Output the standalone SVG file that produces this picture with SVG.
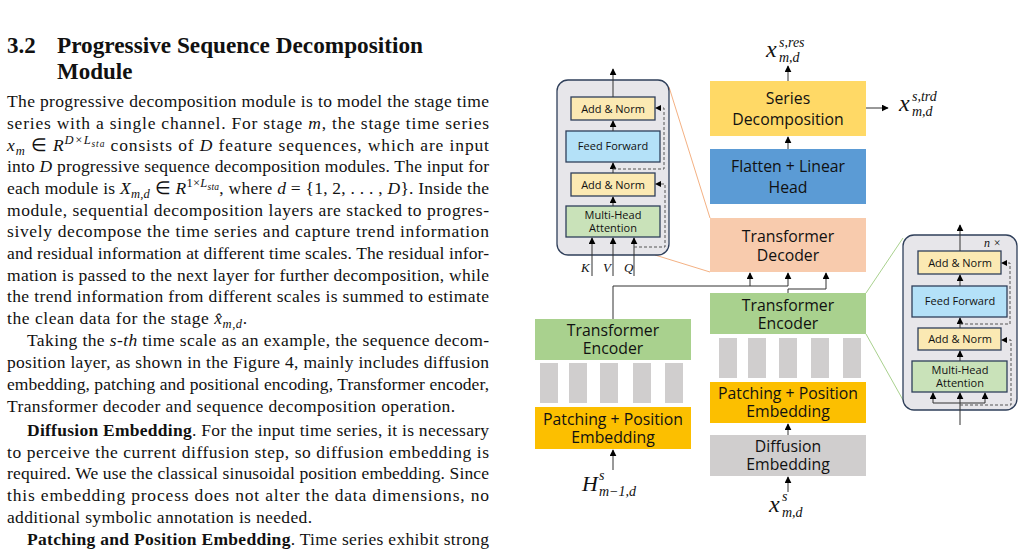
<svg xmlns="http://www.w3.org/2000/svg" width="1023" height="549" viewBox="0 0 1023 549">
<defs>
<marker id="ah" viewBox="0 0 10 10" refX="9" refY="5" markerWidth="7" markerHeight="7" orient="auto-start-reverse" markerUnits="userSpaceOnUse"><path d="M0,0 L10,5 L0,10 z" fill="#000"/></marker>
</defs>
<style>
.body{font-family:"Liberation Serif",serif;font-size:17.5px;fill:#111}
.b{font-weight:bold}
.i{font-style:italic}
.s{font-size:12.5px}
.t{font-size:9.5px}
.h{font-family:"Liberation Serif",serif;font-size:23px;font-weight:bold;fill:#111}
.n{font-family:"Open Sans","Noto Sans",sans-serif;fill:#111;text-anchor:middle}
.big{font-size:15.8px}
.sm{font-size:11px}
.m{font-family:"Liberation Serif",serif;font-style:italic;fill:#111}
.ln{stroke:#333;stroke-width:1;fill:none}
.bx{stroke:#2f3f5a;stroke-width:1.3}
.dash{stroke:#555;stroke-width:1;fill:none;stroke-dasharray:3 2}
</style>
<rect width="1023" height="549" fill="#fff"/>
<g id="text">
<text class="h" x="7" y="53">3.2</text>
<text class="h" x="57" y="53" textLength="366" lengthAdjust="spacingAndGlyphs">Progressive Sequence Decomposition</text>
<text class="h" x="57" y="79">Module</text>
<text class="body" x="7" y="107" textLength="482" lengthAdjust="spacing">The progressive decomposition module is to model the stage time</text>
<text class="body" x="7" y="129" textLength="482" lengthAdjust="spacing">series with a single channel. For stage <tspan class="i">m</tspan>, the stage time series</text>
<text class="body" x="7" y="151" textLength="482" lengthAdjust="spacing"><tspan class="i">x</tspan><tspan class="i s" dy="4">m</tspan><tspan dy="-4"> ∈ </tspan><tspan class="i">R</tspan><tspan class="i s" dy="-7">D×L</tspan><tspan class="i t" dy="3">sta</tspan><tspan dy="4"> consists of </tspan><tspan class="i">D</tspan> feature sequences, which are input</text>
<text class="body" x="7" y="172" textLength="482" lengthAdjust="spacing">into <tspan class="i">D</tspan> progressive sequence decomposition modules. The input for</text>
<text class="body" x="7" y="194" textLength="482" lengthAdjust="spacing">each module is <tspan class="i">X</tspan><tspan class="i s" dy="4">m,d</tspan><tspan dy="-4"> ∈ </tspan><tspan class="i">R</tspan><tspan class="s" dy="-7">1×</tspan><tspan class="i s">L</tspan><tspan class="i t" dy="3">sta</tspan><tspan dy="4">, where </tspan><tspan class="i">d</tspan> = {1, 2, . . . , <tspan class="i">D</tspan>}. Inside the</text>
<text class="body" x="7" y="216" textLength="482" lengthAdjust="spacing">module, sequential decomposition layers are stacked to progres-</text>
<text class="body" x="7" y="237" textLength="482" lengthAdjust="spacing">sively decompose the time series and capture trend information</text>
<text class="body" x="7" y="259" textLength="482" lengthAdjust="spacing">and residual information at different time scales. The residual infor-</text>
<text class="body" x="7" y="281" textLength="482" lengthAdjust="spacing">mation is passed to the next layer for further decomposition, while</text>
<text class="body" x="7" y="302" textLength="482" lengthAdjust="spacing">the trend information from different scales is summed to estimate</text>
<text class="body" x="7" y="324" textLength="240" lengthAdjust="spacing">the clean data for the stage <tspan class="i">x̂</tspan><tspan class="i s" dy="4">m,d</tspan><tspan dy="-4">.</tspan></text>
<text class="body" x="27" y="346" textLength="462" lengthAdjust="spacing">Taking the <tspan class="i">s-th</tspan> time scale as an example, the sequence decom-</text>
<text class="body" x="7" y="368" textLength="482" lengthAdjust="spacing">position layer, as shown in the Figure 4, mainly includes diffusion</text>
<text class="body" x="7" y="390" textLength="482" lengthAdjust="spacing">embedding, patching and positional encoding, Transformer encoder,</text>
<text class="body" x="7" y="412" textLength="448" lengthAdjust="spacing">Transformer decoder and sequence decomposition operation.</text>
<text class="body" x="27" y="436" textLength="462" lengthAdjust="spacing"><tspan class="b">Diffusion Embedding</tspan>. For the input time series, it is necessary</text>
<text class="body" x="7" y="458" textLength="482" lengthAdjust="spacing">to perceive the current diffusion step, so diffusion embedding is</text>
<text class="body" x="7" y="479" textLength="482" lengthAdjust="spacing">required. We use the classical sinusoidal position embedding. Since</text>
<text class="body" x="7" y="501" textLength="482" lengthAdjust="spacing">this embedding process does not alter the data dimensions, no</text>
<text class="body" x="7" y="523" textLength="305" lengthAdjust="spacing">additional symbolic annotation is needed.</text>
<text class="body" x="27" y="545" textLength="462" lengthAdjust="spacing"><tspan class="b">Patching and Position Embedding</tspan>. Time series exhibit strong</text>
</g>

<g id="zoomlines">
<line x1="669" y1="87" x2="710" y2="218" stroke="#f4b183" stroke-width="1"/>
<line x1="655" y1="255" x2="710" y2="272" stroke="#f4b183" stroke-width="1"/>
<line x1="866" y1="293" x2="903" y2="238" stroke="#a9d18e" stroke-width="1"/>
<line x1="866" y1="334" x2="903" y2="400" stroke="#a9d18e" stroke-width="1"/>
</g>

<g id="decoder-detail">
<rect x="557" y="80" width="112" height="175" rx="11" fill="#e7e6ea" stroke="#2f3f5a" stroke-width="1.3"/>
<rect class="bx" x="571" y="97" width="84" height="23" fill="#fbe9b3"/>
<text class="n sm" x="613" y="113">Add &amp; Norm</text>
<rect class="bx" x="566" y="131" width="94" height="31" fill="#b4e1f8"/>
<text class="n sm" x="613" y="150">Feed Forward</text>
<rect class="bx" x="571" y="173" width="84" height="23" fill="#fbe9b3"/>
<text class="n sm" x="613" y="189">Add &amp; Norm</text>
<rect class="bx" x="566" y="206" width="94" height="31" fill="#c9e2b9"/>
<text class="n sm" x="613" y="219">Multi-Head</text>
<text class="n sm" x="613" y="232">Attention</text>
<text class="m" x="581" y="272" font-size="13">K</text>
<text class="m" x="603" y="272" font-size="13">V</text>
<text class="m" x="624" y="272" font-size="13">Q</text>
</g>

<g id="series-decomposition"><rect x="710" y="81" width="156" height="55" fill="#ffd966"/>
<text class="n big" x="788" y="104">Series</text><text class="n big" x="788" y="125">Decomposition</text></g>
<g id="flatten"><rect x="710" y="149" width="156" height="55" fill="#5b9bd5"/>
<text class="n big" x="788" y="172">Flatten + Linear</text><text class="n big" x="788" y="193">Head</text></g>
<g id="decoder"><rect x="710" y="218" width="156" height="54" fill="#f8cbad"/>
<text class="n big" x="788" y="242">Transformer</text><text class="n big" x="788" y="261">Decoder</text></g>
<g id="encoder-right"><rect x="710" y="293" width="156" height="41" fill="#a9d18e"/>
<text class="n big" x="788" y="311">Transformer</text><text class="n big" x="788" y="329">Encoder</text></g>
<g id="patches-right" fill="#d0cece">
<rect x="719" y="338" width="18" height="40"/><rect x="748" y="338" width="18" height="40"/><rect x="779" y="338" width="18" height="40"/><rect x="811" y="338" width="18" height="40"/><rect x="843" y="338" width="18" height="40"/></g>
<g id="patching-right"><rect x="710" y="382" width="156" height="41" fill="#fcbf00"/>
<text class="n big" x="788" y="399">Patching + Position</text><text class="n big" x="788" y="417">Embedding</text></g>
<g id="diffusion"><rect x="710" y="435" width="156" height="41" fill="#d0cece"/>
<text class="n big" x="788" y="452">Diffusion</text><text class="n big" x="788" y="470">Embedding</text></g>

<g id="encoder-left"><rect x="535" y="319" width="156" height="41" fill="#a9d18e"/>
<text class="n big" x="613" y="336">Transformer</text><text class="n big" x="613" y="354">Encoder</text></g>
<g id="patches-left" fill="#d0cece">
<rect x="540" y="363" width="18" height="40"/><rect x="569" y="363" width="18" height="40"/><rect x="600" y="363" width="18" height="40"/><rect x="633" y="363" width="18" height="40"/><rect x="665" y="363" width="18" height="40"/></g>
<g id="patching-left"><rect x="535" y="407" width="156" height="42" fill="#fcbf00"/>
<text class="n big" x="613" y="425">Patching + Position</text><text class="n big" x="613" y="443">Embedding</text></g>

<g id="encoder-detail">
<rect x="903" y="235" width="114" height="175" rx="11" fill="#e7e6ea" stroke="#2f3f5a" stroke-width="1.3"/>
<text class="m" x="984" y="247" font-size="12">n ×</text>
<rect class="bx" x="918" y="251" width="83" height="23" fill="#fbe9b3"/>
<text class="n sm" x="960" y="267">Add &amp; Norm</text>
<rect class="bx" x="912" y="286" width="95" height="31" fill="#b4e1f8"/>
<text class="n sm" x="960" y="305">Feed Forward</text>
<rect class="bx" x="918" y="328" width="83" height="22" fill="#fbe9b3"/>
<text class="n sm" x="960" y="343">Add &amp; Norm</text>
<rect class="bx" x="912" y="361" width="95" height="31" fill="#c9e2b9"/>
<text class="n sm" x="960" y="374">Multi-Head</text>
<text class="n sm" x="960" y="387">Attention</text>
</g>

<g id="labels">
<text class="m" x="766" y="57" font-size="24">x</text>
<text class="m" x="779" y="47" font-size="14">s,res</text>
<text class="m" x="779" y="62" font-size="14">m,d</text>
<text class="m" x="899" y="111" font-size="24">x</text>
<text class="m" x="912" y="101" font-size="14">s,trd</text>
<text class="m" x="912" y="116" font-size="14">m,d</text>
<text class="m" x="769" y="512" font-size="24">x</text>
<text class="m" x="782" y="501" font-size="14">s</text>
<text class="m" x="782" y="517" font-size="14">m,d</text>
<text class="m" x="582" y="491" font-size="22">H</text>
<text class="m" x="599" y="480" font-size="14">s</text>
<text class="m" x="599" y="496" font-size="14">m−1,d</text>
</g>

<g id="connectors">
<line class="ln" x1="613" y1="97" x2="613" y2="69" marker-end="url(#ah)"/>
<line class="ln" x1="613" y1="131" x2="613" y2="121" marker-end="url(#ah)"/>
<line class="ln" x1="613" y1="173" x2="613" y2="163" marker-end="url(#ah)"/>
<line class="ln" x1="613" y1="206" x2="613" y2="197" marker-end="url(#ah)"/>
<line class="ln" x1="592" y1="276" x2="592" y2="238" marker-end="url(#ah)"/>
<line class="ln" x1="613" y1="276" x2="613" y2="238" marker-end="url(#ah)"/>
<line class="ln" x1="634" y1="276" x2="634" y2="238" marker-end="url(#ah)"/>
<path class="dash" d="M634,247 H665 V184 H657"/>
<path d="M655,184 l6,-3 v6 z" fill="#000"/>
<path class="dash" d="M613,169 H664 V108 H657"/>
<path d="M655,108 l6,-3 v6 z" fill="#000"/>
<line class="ln" x1="788" y1="81" x2="788" y2="66" marker-end="url(#ah)"/>
<line class="ln" x1="866" y1="108" x2="888" y2="108" marker-end="url(#ah)"/>
<line class="ln" x1="788" y1="149" x2="788" y2="137" marker-end="url(#ah)"/>
<path class="ln" d="M613,319 V286 H788"/>
<line class="ln" x1="750" y1="286" x2="750" y2="273" marker-end="url(#ah)"/>
<line class="ln" x1="788" y1="286" x2="788" y2="273" marker-end="url(#ah)"/>
<path class="ln" d="M788,293 V289 H826 V281"/>
<line class="ln" x1="826" y1="281" x2="826" y2="273" marker-end="url(#ah)"/>
<line class="ln" x1="788" y1="435" x2="788" y2="424" marker-end="url(#ah)"/>
<line class="ln" x1="788" y1="492" x2="788" y2="477" marker-end="url(#ah)"/>
<line class="ln" x1="613" y1="470" x2="613" y2="450" marker-end="url(#ah)"/>
<line class="ln" x1="960" y1="251" x2="960" y2="225" marker-end="url(#ah)"/>
<line class="ln" x1="960" y1="286" x2="960" y2="275" marker-end="url(#ah)"/>
<line class="ln" x1="960" y1="328" x2="960" y2="318" marker-end="url(#ah)"/>
<line class="ln" x1="960" y1="361" x2="960" y2="351" marker-end="url(#ah)"/>
<line class="ln" x1="960" y1="425" x2="960" y2="393" marker-end="url(#ah)"/>
<path class="ln" d="M933,403 H985"/>
<line class="ln" x1="933" y1="403" x2="933" y2="393" marker-end="url(#ah)"/>
<line class="ln" x1="985" y1="403" x2="985" y2="393" marker-end="url(#ah)"/>
<path class="dash" d="M960,405 H1011 V340 H1003"/>
<path d="M1001,340 l6,-3 v6 z" fill="#000"/>
<path class="dash" d="M960,324 H1010 V263 H1003"/>
<path d="M1001,263 l6,-3 v6 z" fill="#000"/>
</g>
</svg>
